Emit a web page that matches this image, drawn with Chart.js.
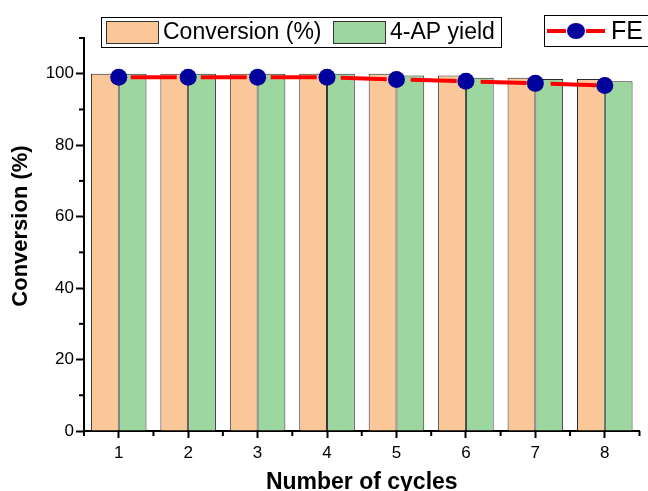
<!DOCTYPE html>
<html>
<head>
<meta charset="utf-8">
<script src="https://cdn.jsdelivr.net/npm/chart.js@4.4.1/dist/chart.umd.min.js"></script>
<style>
  html, body { margin: 0; padding: 0; background: #fff; }
  #wrap { width: 648px; height: 491px; position: relative; }
</style>
</head>
<body>
<div id="wrap"><canvas id="myChart"></canvas></div>
<script>
const cycles = ['1', '2', '3', '4', '5', '6', '7', '8'];
const conversion = [100, 100, 100, 100, 100, 99.5, 98.9, 98.5];
const apYield = [100, 100, 100, 100, 99.5, 98.9, 98.5, 97.9];
const fe = [99.0, 99.0, 99.0, 99.0, 98.4, 97.9, 97.3, 96.7];

const FONT = '"Liberation Sans", Arial, sans-serif';

// minor ticks, y title, and the two framed legends
const extras = {
  id: 'extras',
  afterDraw(chart) {
    const c = chart.ctx;
    const x = chart.scales.x, y = chart.scales.y;
    c.save();
    c.strokeStyle = '#000';
    c.lineWidth = 2;
    for (let v = 10; v <= 110; v += 20) {
      const py = y.getPixelForValue(v);
      c.beginPath(); c.moveTo(x.left - 5, py); c.lineTo(x.left, py); c.stroke();
    }
    for (let i = 0; i <= cycles.length; i++) {
      const px = x.getPixelForValue(i - 0.5);
      c.beginPath(); c.moveTo(px, y.bottom); c.lineTo(px, y.bottom + 5); c.stroke();
    }

    // y axis title, sits a little above the plot centre
    c.save();
    c.translate(21, 226);
    c.rotate(-Math.PI / 2);
    c.font = 'bold 22px ' + FONT;
    c.textAlign = 'center';
    c.textBaseline = 'middle';
    c.fillStyle = '#000';
    c.fillText('Conversion (%)', 0, 0);
    c.restore();

    const ds = chart.data.datasets;
    c.font = '23px ' + FONT;
    c.textBaseline = 'middle';

    // bar legend
    c.lineWidth = 1;
    c.strokeStyle = '#000';
    c.strokeRect(101.5, 17.5, 400, 30);
    c.fillStyle = ds[0].backgroundColor;
    c.fillRect(106, 21, 52, 22);
    c.strokeStyle = '#333';
    c.strokeRect(106.5, 21.5, 52, 22);
    c.fillStyle = '#000';
    c.fillText(ds[0].label, 163, 33);
    c.fillStyle = ds[1].backgroundColor;
    c.fillRect(333, 21, 52, 22);
    c.strokeRect(333.5, 21.5, 52, 22);
    c.fillStyle = '#000';
    c.fillText(ds[1].label, 390, 33);

    // line legend
    c.strokeStyle = '#000';
    c.strokeRect(544.5, 15.5, 110, 31);
    c.strokeStyle = ds[2].borderColor;
    c.lineWidth = 4;
    c.beginPath(); c.moveTo(547, 31); c.lineTo(566, 31); c.stroke();
    c.beginPath(); c.moveTo(586, 31); c.lineTo(605, 31); c.stroke();
    c.fillStyle = ds[2].pointBackgroundColor;
    c.beginPath(); c.ellipse(576, 31, 9, 8, 0, 0, Math.PI * 2); c.fill();
    c.fillStyle = '#000';
    c.font = '25px ' + FONT;
    c.fillText(ds[2].label, 611, 32);
    c.restore();
  }
};

new Chart(document.getElementById('myChart'), {
  type: 'bar',
  data: {
    labels: cycles,
    datasets: [
      {
        label: 'Conversion (%)',
        data: conversion,
        backgroundColor: 'rgb(250, 200, 152)',
        borderColor: '#2a2a2a',
        borderWidth: 1,
        categoryPercentage: 0.8,
        barPercentage: 1.0,
        order: 2
      },
      {
        label: '4-AP yield',
        data: apYield,
        backgroundColor: 'rgb(157, 215, 159)',
        borderColor: '#2a2a2a',
        borderWidth: 1,
        categoryPercentage: 0.8,
        barPercentage: 1.0,
        order: 2
      },
      {
        type: 'line',
        label: 'FE',
        data: fe,
        borderColor: '#ff0000',
        borderWidth: 4,
        borderDash: [46, 24],
        borderDashOffset: 58,
        pointBackgroundColor: '#00009c',
        pointBorderColor: '#00009c',
        pointRadius: 8.5,
        pointBorderWidth: 0,
        tension: 0,
        fill: false,
        order: 0
      }
    ]
  },
  options: {
    responsive: true,
    maintainAspectRatio: false,
    animation: false,
    layout: { padding: { top: 38, right: 5, left: 0, bottom: 0 } },
    plugins: {
      legend: { display: false },
      tooltip: { enabled: false }
    },
    scales: {
      x: {
        offset: true,
        afterFit: s => { s.height = 60; s.paddingLeft = 0; s.paddingRight = 0; },
        grid: { display: true, drawOnChartArea: false, offset: false, tickLength: 7, tickWidth: 2, tickColor: '#000' },
        border: { display: true, color: '#000', width: 2 },
        ticks: { color: '#000', font: { family: FONT, size: 17 }, padding: 5 },
        title: {
          display: true,
          text: 'Number of cycles',
          color: '#000',
          font: { family: FONT, size: 23, weight: 'bold' },
          padding: { top: -5, bottom: -5 }
        }
      },
      y: {
        min: 0,
        max: 110,
        afterFit: s => { s.width = 84; },
        afterBuildTicks: s => { s.ticks = [0, 20, 40, 60, 80, 100].map(v => ({ value: v })); },
        grid: { display: true, drawOnChartArea: false, tickLength: 8, tickWidth: 2, tickColor: '#000' },
        border: { display: true, color: '#000', width: 2 },
        ticks: { color: '#000', font: { family: FONT, size: 17 }, padding: 2 },
        title: { display: false }
      }
    }
  },
  plugins: [extras]
});
</script>
</body>
</html>
